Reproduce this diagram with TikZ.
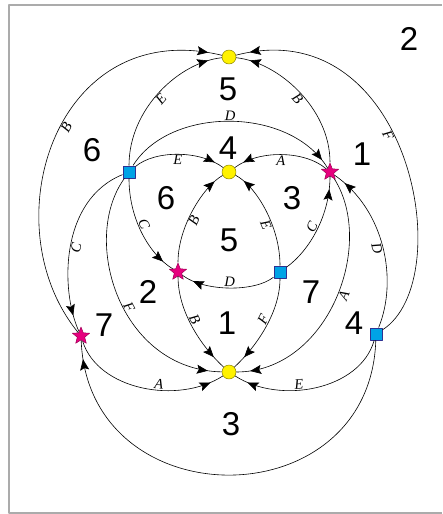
\documentclass[tikz,border=0pt]{standalone}
\usepackage{fontspec}
\setmainfont{Liberation Serif}
\setsansfont{Liberation Sans}
\usetikzlibrary{shapes.geometric,arrows.meta,decorations.markings}

\begin{document}
\begin{tikzpicture}[x=1pt,y=-1pt,line join=round,
  vtx/.style={inner sep=0pt,line width=.5pt},
  sinkdot/.style={vtx,circle,minimum size=14pt,fill=sinkY,draw=sinkY!55!black},
  srcbox/.style={vtx,rectangle,minimum size=12.5pt,fill=srcB,draw=srcE},
  midstar/.style={vtx,star,star points=5,star point ratio=2.3,minimum size=18pt,fill=midM,draw=midM!70!black},
  wire/.style={line width=.6pt},
  flow/.style={wire,postaction={decorate},decoration={markings,mark=at position #1 with {\arrow{Stealth[length=11pt,width=9pt,inset=2pt]}}}},
  flow/.default=-12pt,
  lbl/.style={font=\itshape\fontsize{14.5}{14.5}\selectfont,sloped,inner sep=.8pt},
  facenum/.style={font=\sffamily\fontsize{33}{33}\selectfont,inner sep=0pt}]
\definecolor{sinkY}{HTML}{FFF200}
\definecolor{srcB}{HTML}{00A3E6}
\definecolor{srcE}{HTML}{2E3192}
\definecolor{midM}{HTML}{E6007E}
\definecolor{frameG}{HTML}{ABABAB}
\useasboundingbox (0,0) rectangle (442,514);
\draw[frameG,line width=1.6pt] (442,4.8) -- (8.7,4.8) -- (8.7,512.8) -- (442,512.8);
\node[sinkdot] (y1) at (229,57) {};
\node[sinkdot] (y2) at (229,172) {};
\node[sinkdot] (y3) at (229,372) {};
\node[midstar] (s1) at (330,172) {};
\node[midstar] (s2) at (178,272) {};
\node[midstar] (s3) at (81,336) {};
\node[srcbox] (q1) at (129,172) {};
\node[srcbox] (q2) at (280,272) {};
\node[srcbox] (q3) at (376,334) {};
\draw[flow=-14pt] (s3) .. controls (-10,225) and (55,15) .. (y1) node[lbl,pos=.54,below] {B};
\draw[flow=-14pt] (q1) .. controls (129,108) and (180,62) .. (y1) node[lbl,pos=.47,below] {E};
\draw[flow=-14pt] (s1) .. controls (330,108) and (278,62) .. (y1) node[lbl,pos=.47,below] {B};
\draw[flow=-14pt] (q3) .. controls (460,280) and (410,10) .. (y1) node[lbl,pos=.56,below] {F};
\draw[flow=-10pt] (q1) .. controls (170,106) and (290,106) .. (s1) node[lbl,pos=.5,above,inner sep=.3pt] {D};
\draw[flow=-10pt] (q1) .. controls (155,150) and (200,150) .. (y2) node[lbl,pos=.5,below] {E};
\draw[flow=-10pt] (s1) .. controls (304,150) and (258,150) .. (y2) node[lbl,pos=.5,below] {A};
\draw[flow] (q1) .. controls (129,220) and (150,255) .. (s2) node[lbl,pos=.42,above] {C};
\draw[flow] (q2) .. controls (255,292) and (205,292) .. (s2) node[lbl,pos=.5,above] {D};
\draw[flow=-13pt] (q2) .. controls (310,250) and (330,215) .. (s1) node[lbl,pos=.5,above] {C};
\draw[flow=-10pt] (s2) .. controls (178,225) and (205,185) .. (y2) node[lbl,pos=.4,below] {B};
\draw[flow=-10pt] (q2) .. controls (280,225) and (255,185) .. (y2) node[lbl,pos=.37,below] {E};
\draw[flow=-17pt] (q1) .. controls (60,200) and (60,290) .. (s3) node[lbl,pos=.5,below] {C};
\draw[flow=-14pt] (q1) .. controls (80,240) and (120,370) .. (y3) node[lbl,pos=.55,above] {F};
\draw[flow=-14pt] (s2) .. controls (178,315) and (205,350) .. (y3) node[lbl,pos=.42,above] {B};
\draw[flow=-14pt] (q2) .. controls (280,315) and (253,350) .. (y3) node[lbl,pos=.42,above] {F};
\draw[flow=-14pt] (s1) .. controls (376,245) and (328,372) .. (y3) node[lbl,pos=.47,below] {A};
\draw[flow=-13pt] (q3) .. controls (398,280) and (385,210) .. (s1) node[lbl,pos=.5,below] {D};
\draw[flow=-14pt] (q3) .. controls (360,390) and (280,405) .. (y3) node[lbl,pos=.6,above] {E};
\draw[flow=-14pt] (s3) .. controls (98,390) and (178,405) .. (y3) node[lbl,pos=.6,above] {A};
\draw[flow=-19pt] (q3) .. controls (370,520) and (88,520) .. (s3);
\node[facenum] (f2a) at (409,39) {2};
\node[facenum] (f5a) at (228,89.5) {5};
\node[facenum] (f6a) at (92,150) {6};
\node[facenum] (f4a) at (228,148) {4};
\node[facenum] (f1a) at (362,154) {1};
\node[facenum] (f6b) at (166,198) {6};
\node[facenum] (f3a) at (292,198) {3};
\node[facenum] (f5b) at (229,240) {5};
\node[facenum] (f2b) at (148,292) {2};
\node[facenum] (f7a) at (311,292) {7};
\node[facenum] (f7b) at (104,325) {7};
\node[facenum] (f1b) at (227,323) {1};
\node[facenum] (f4b) at (354,323) {4};
\node[facenum] (f3b) at (231,424) {3};
\end{tikzpicture}
\end{document}
